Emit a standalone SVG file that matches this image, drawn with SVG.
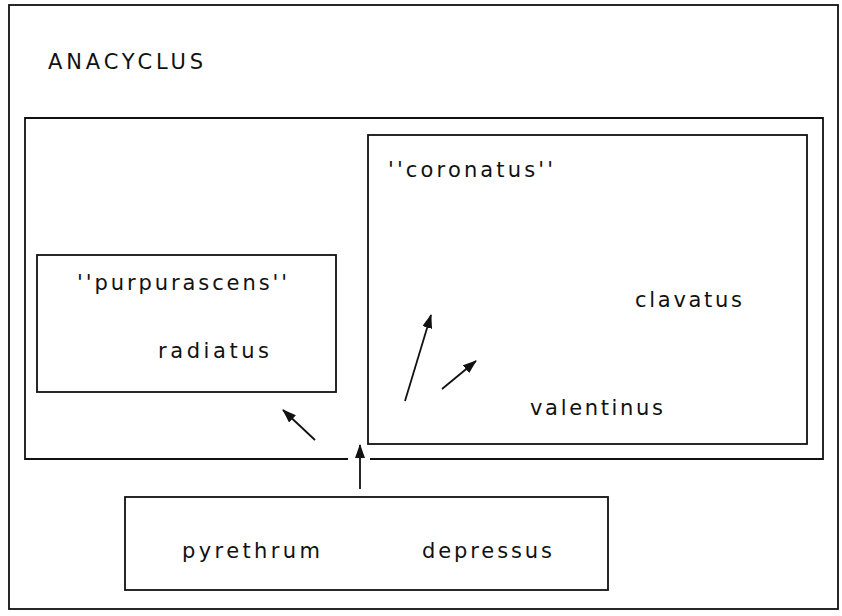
<svg xmlns="http://www.w3.org/2000/svg" width="842" height="616" viewBox="0 0 842 616">
<style>
.box{fill:none;stroke:#111;stroke-width:1.8}
.lbl{font-family:"DejaVu Sans","Liberation Sans",sans-serif;font-size:21px;fill:#111}
.arr{stroke:#111;stroke-width:1.8;fill:none;marker-end:url(#ah)}
</style>
<defs>
<marker id="ah" markerUnits="userSpaceOnUse" markerWidth="14" markerHeight="10" refX="13" refY="5" orient="auto">
<path d="M0,0 L14,5 L0,10 Z" fill="#111"/>
</marker>
</defs>
<rect width="842" height="616" fill="#fff"/>
<g id="anacyclus">
<rect class="box" x="9" y="5" width="829" height="604"/>
<text class="lbl" x="48" y="69" textLength="155" lengthAdjust="spacing">ANACYCLUS</text>
</g>
<g id="group-main">
<path class="box" d="M348,459 L25,459 L25,118 L823,118 L823,459 L370,459"/>
</g>
<g id="coronatus">
<rect class="box" x="368" y="135" width="439" height="309"/>
<text class="lbl" x="388" y="177" textLength="165" lengthAdjust="spacing">''coronatus''</text>
</g>
<g id="clavatus">
<text class="lbl" x="635" y="307" textLength="107" lengthAdjust="spacing">clavatus</text>
</g>
<g id="valentinus">
<text class="lbl" x="530" y="415" textLength="133" lengthAdjust="spacing">valentinus</text>
</g>
<g id="purpurascens">
<rect class="box" x="37" y="255" width="299" height="137"/>
<text class="lbl" x="77" y="290" textLength="210" lengthAdjust="spacing">''purpurascens''</text>
</g>
<g id="radiatus">
<text class="lbl" x="158" y="358" textLength="111" lengthAdjust="spacing">radiatus</text>
</g>
<g id="bottom">
<rect class="box" x="125" y="497" width="483" height="93"/>
<text class="lbl" x="182" y="558" textLength="138" lengthAdjust="spacing">pyrethrum</text>
<text class="lbl" x="422" y="558" textLength="130" lengthAdjust="spacing">depressus</text>
</g>
<g id="connectors">
<line class="arr" x1="360" y1="489" x2="360" y2="445"/>
<line class="arr" x1="315" y1="440" x2="283" y2="410"/>
<line class="arr" x1="405" y1="401" x2="431" y2="315"/>
<line class="arr" x1="442" y1="389" x2="476" y2="361"/>
</g>
</svg>
